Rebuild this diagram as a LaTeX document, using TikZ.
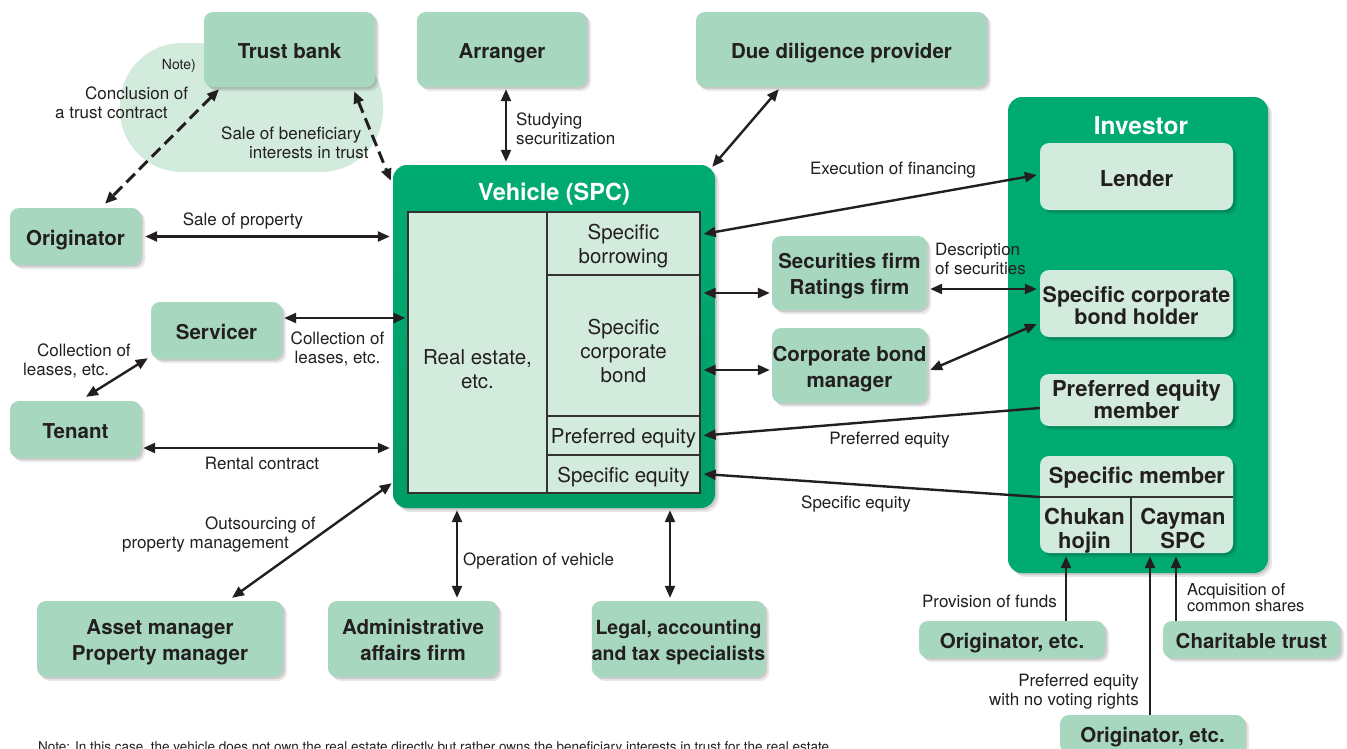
\documentclass[tikz,border=0pt]{standalone}
\usepackage{fontspec}
\setmainfont{TeX Gyre Heros}
\usetikzlibrary{arrows.meta,shadows,calc}
\definecolor{boxg}{HTML}{A7D8BF}
\definecolor{lightg}{HTML}{D3EBDD}
\definecolor{darkg}{HTML}{00AB71}
\definecolor{darkgb}{HTML}{009D66}
\definecolor{ink}{HTML}{231F20}
\definecolor{cellline}{HTML}{333333}
\begin{document}
\begin{tikzpicture}[x=1pt,y=-1pt,
  shadowy/.style={drop shadow={shadow xshift=4pt,shadow yshift=-4pt,opacity=.09,fill=black},
                  drop shadow={shadow xshift=2pt,shadow yshift=-2pt,opacity=.12,fill=black}},
  box/.style={rounded corners=9pt, fill=boxg, shadowy, text=ink,
              font=\fontsize{20.5}{26}\selectfont\bfseries, align=center, inner sep=0pt,
              text height=17.8pt, text depth=0pt},
  boxtwo/.style={box, text height=43.8pt},
  ibox/.style={box, fill=lightg, font=\fontsize{22}{22}\selectfont\bfseries, text height=19.8pt},
  lbl/.style={text=ink, font=\fontsize{17}{19}\selectfont, inner sep=0pt, align=left},
  cell/.style={draw=cellline, line width=1.3pt, fill=lightg, inner sep=0pt},
  celltext/.style={text=ink, font=\fontsize{20.5}{24}\selectfont, align=center, inner sep=0pt},
  title/.style={text=white, font=\fontsize{23.5}{24}\selectfont\bfseries, inner sep=0pt},
  link/.style={draw=ink, line width=2.4pt, {Triangle[length=12pt,width=10pt]}-{Triangle[length=12pt,width=10pt]}},
  oneway/.style={draw=ink, line width=2.4pt, -{Triangle[length=12pt,width=10pt]}},
  dlink/.style={link, line width=3pt, dash pattern=on 12pt off 6pt},
]
\useasboundingbox (0,0) rectangle (1347,748);
\fill[white] (0,0) rectangle (1347,748);

% cloud behind trust bank
\fill[lightg, rounded corners=62pt] (120,43) rectangle (383,172);

% ---------- top row ----------
\node[box, minimum width=171, minimum height=75] (tb) at (289.5,49.5) {Trust bank};
\node[box, minimum width=170, minimum height=75] (arr) at (502,49.5) {Arranger};
\node[box, minimum width=291, minimum height=75] (dd) at (841.5,49.5) {Due diligence provider};

% ---------- left column ----------
\node[box, minimum width=131, minimum height=57] (orig) at (75.5,236.5) {Originator};
\node[box, minimum width=131, minimum height=57] (serv) at (216.5,330.5) {Servicer};
\node[box, minimum width=131, minimum height=57] (ten) at (75.5,429.5) {Tenant};

% ---------- bottom row ----------
\node[boxtwo, minimum width=246, minimum height=76] (am) at (160,639) {Asset manager\\Property manager};
\node[boxtwo, minimum width=170, minimum height=76] (adm) at (413,639) {Administrative\\affairs firm};
\node[boxtwo, minimum width=169, minimum height=76, font=\fontsize{19.5}{26}\selectfont\bfseries] (leg) at (678.5,639) {Legal, accounting\\and tax specialists};

% ---------- middle ----------
\node[boxtwo, minimum width=155, minimum height=74] (sec) at (849.5,273) {Securities firm\\Ratings firm};
\node[boxtwo, minimum width=155, minimum height=75] (cbm) at (849.5,365.5) {Corporate bond\\manager};

% ---------- vehicle ----------
\node[top color=darkg, bottom color=darkgb, rounded corners=14pt, minimum width=322, minimum height=343, shadowy, inner sep=0pt] (veh) at (554,336.5) {};
\node[title] (vtitle) at (554,194) {Vehicle (SPC)};
\node[cell, minimum width=139, minimum height=281] (re) at (477.5,352.5) {};
\node[celltext] (retext) at (477.5,369) {Real estate,\\etc.};
\node[cell, minimum width=153, minimum height=63] (sb) at (623.5,243.5) {};
\node[celltext] (sbtext) at (623.5,246) {Specific\\borrowing};
\node[cell, minimum width=153, minimum height=141] (sbond) at (623.5,345.5) {};
\node[celltext] (sbondtext) at (623.5,351) {Specific\\corporate\\bond};
\node[cell, minimum width=153, minimum height=39] (pe) at (623.5,435.5) {};
\node[celltext] (petext) at (623.5,438) {Preferred equity};
\node[cell, minimum width=153, minimum height=38] (se) at (623.5,474) {};
\node[celltext] (setext) at (623.5,477) {Specific equity};

% ---------- investor ----------
\node[fill=darkg, rounded corners=14pt, minimum width=260, minimum height=476, shadowy, inner sep=0pt] (inv) at (1138,335) {};
\node[title, font=\fontsize{24.5}{25}\selectfont\bfseries] (invtitle) at (1141,126) {Investor};
\node[ibox, minimum width=193, minimum height=67] (lend) at (1136.5,176.5) {Lender};
\node[ibox, minimum width=193, minimum height=67, font=\fontsize{21.5}{22}\selectfont\bfseries, text height=42pt] (hold) at (1136.5,303.5) {Specific corporate\\bond holder};
\node[ibox, minimum width=193, minimum height=52, font=\fontsize{22}{20}\selectfont\bfseries, text height=36pt] (pem) at (1136.5,400) {Preferred equity\\member};
\node[ibox, minimum width=193, minimum height=97] (sm) at (1136.5,504.5) {};
\draw[cellline, line width=1.3pt] (sm.west |- 0,497) -- (sm.east |- 0,497);
\draw[cellline, line width=1.3pt] (1131,497) -- (1131,0 |- sm.south);
\node[text=ink, font=\fontsize{22}{22}\selectfont\bfseries, inner sep=0pt] (smtext) at (1137,478) {Specific member};
\node[text=ink, font=\fontsize{22}{24}\selectfont\bfseries, align=center, inner sep=0pt, text height=40pt, text depth=0pt] (chukan) at (1084.5,528) {Chukan\\hojin};
\node[text=ink, font=\fontsize{22}{24}\selectfont\bfseries, align=center, inner sep=0pt, text height=40pt, text depth=0pt] (cayman) at (1183,528) {Cayman\\SPC};

% ---------- lower right ----------
\node[box, minimum width=186, minimum height=37] (oe1) at (1012,639.5) {Originator, etc.};
\node[box, minimum width=177, minimum height=37] (ct) at (1251.5,639.5) {Charitable trust};
\node[box, minimum width=185, minimum height=38] (oe2) at (1152.5,734) {Originator, etc.};

% ---------- connectors ----------
\draw[dlink] ($(tb.south)+(-70.5,2)$) -- ($(orig.north)+(29.5,-4)$);
\draw[dlink] ($(tb.south east)+(-21,4)$) -- ($(veh.north west)+(-2,16)$);
\draw[link, shorten <=4pt, shorten >=3pt] (orig.east) -- (orig.east -| veh.west);
\draw[link, shorten <=2pt, shorten >=2pt] ($(serv.east)+(0,-12.5)$) -- ($(serv.east -| re.west)+(0,-12.5)$);
\draw[link] ($(serv.south west)+(-3,-1)$) -- ($(ten.north)+(10.5,-4)$);
\draw[link, shorten <=2pt, shorten >=3pt] ($(ten.east)+(0,18.5)$) -- ($(ten.east -| veh.west)+(0,18.5)$);
\draw[link] ($(am.north)+(72,-3)$) -- ($(veh.south west)+(-1,-25)$);
\draw[link] ($(adm.north)+(44,-3)$) -- ($(adm.north |- veh.south)+(44,2)$);
\draw[link] ($(leg.north)+(-8.5,-3)$) -- ($(leg.north |- veh.south)+(-8.5,2)$);
\draw[link] ($(arr.south)+(4,2)$) -- ($(arr.south |- veh.north)+(4,-3)$);
\draw[link] ($(dd.south west)+(83,2)$) -- ($(veh.north east)+(-3,2)$);
\draw[link] ($(sb.east)+(3,-9.5)$) -- ($(lend.west)+(-3,-1.5)$);
\draw[link] ($(sec.west)+(-2,20)$) -- ($(sec.west -| sb.east)+(3,20)$);
\draw[link] ($(sec.east)+(3,16)$) -- ($(sec.east -| hold.west)+(-3,16)$);
\draw[link] ($(cbm.west)+(-2,4.5)$) -- ($(cbm.west -| sb.east)+(3,4.5)$);
\draw[link] ($(cbm.east)+(3,4.5)$) -- ($(hold.west)+(-3,20.5)$);
\draw[oneway] ($(pem.west)+(0,8)$) -- ($(pe.east)+(3,0)$);
\draw[oneway] ($(sm.west)+(0,-7.5)$) -- ($(se.east)+(3,0)$);
\draw[oneway] ($(oe1.north)+(54,0)$) -- ($(oe1.north |- sm.south)+(54,3)$);
\draw[oneway] ($(oe2.north)+(-2.5,0)$) -- ($(oe2.north |- sm.south)+(-2.5,3)$);
\draw[oneway] ($(ct.north)+(-75.5,0)$) -- ($(ct.north |- sm.south)+(-75.5,3)$);

% ---------- labels ----------
\node[lbl, font=\fontsize{14}{16}\selectfont, anchor=east] (notemark) at (196,66) {Note)};
\node[lbl, anchor=west] (lconc) at (55,102.5) {\hspace*{30pt}Conclusion of\\a trust contract};
\node[lbl, anchor=west] (lsale) at (221,142.5) {Sale of beneficiary\\\hspace*{28pt}interests in trust};
\node[lbl] (lprop) at (243,221) {Sale of property};
\node[lbl, align=center] (lcoll) at (337.5,348.5) {Collection of\\leases, etc.};
\node[lbl, anchor=west] (lcoll2) at (23,360.5) {\hspace*{14pt}Collection of\\leases, etc.};
\node[lbl] (lrent) at (262,463) {Rental contract};
\node[lbl, anchor=west] (lout) at (122,534) {\hspace*{83pt}Outsourcing of\\property management};
\node[lbl, anchor=west] (lop) at (463,561) {Operation of vehicle};
\node[lbl, anchor=west] (lstudy) at (516,128.5) {Studying\\securitization};
\node[lbl] (lexec) at (893,170) {Execution of financing};
\node[lbl, anchor=west] (ldesc) at (935,258.5) {Description\\of securities};
\node[lbl] (lpref) at (889.5,440) {Preferred equity};
\node[lbl] (lspec) at (856,504) {Specific equity};
\node[lbl, anchor=east] (lprov) at (1057,601) {Provision of funds};
\node[lbl, anchor=west, font=\fontsize{16.5}{16}\selectfont] (lacq) at (1187,597.5) {Acquisition of\\common shares};
\node[lbl, anchor=east, align=right] (lnovote) at (1139,692) {Preferred equity\\with no voting rights};
\node[lbl, anchor=north west, font=\fontsize{13.5}{15}\selectfont] (bottomnote) at (38,741) {Note: In this case, the vehicle does not own the real estate directly but rather owns the beneficiary interests in trust for the real estate.};
\end{tikzpicture}
\end{document}
